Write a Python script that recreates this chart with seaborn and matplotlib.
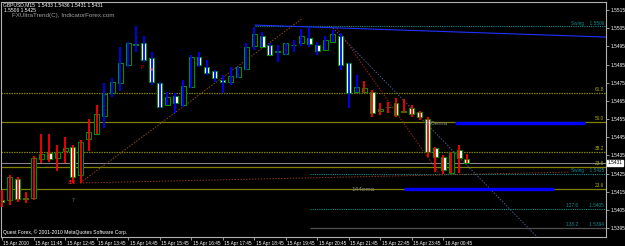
import numpy as np
import pandas as pd
import matplotlib
matplotlib.use("Agg")
import matplotlib.pyplot as plt
import matplotlib.transforms as mtransforms
import seaborn as sns

# ---------------- data ----------------
header_line1 = "GBPUSD,M15  1.5433 1.5436 1.5431 1.5431"
header_line2 = "1.5506 1.5425"
indicator_name = "FXUltraTrend(C), IndicatorForex.com"
copyright_text = "Quest Forex, \u00a9 2001-2010 MetaQuotes Software Corp."

opens = [1.54104, 1.54104, 1.54220, 1.54115, 1.54115, 1.54330, 1.54363, 1.54335, 1.54374, 1.54396,
         1.54242, 1.54440, 1.54468, 1.54567, 1.54693, 1.54748, 1.54847, 1.54957, 1.54968, 1.54886,
         1.54748, 1.54627, 1.54677, 1.54627, 1.54726, 1.54891, 1.54836, 1.54814, 1.54765, 1.54754,
         1.54781, 1.54825, 1.54952, 1.55007, 1.54957, 1.54919, 1.54908, 1.54957, 1.54968, 1.54996,
         1.54957, 1.54930, 1.54974, 1.55007, 1.54858, 1.54699, 1.54699, 1.54699, 1.54594, 1.54616,
         1.54638, 1.54589, 1.54611, 1.54589, 1.54550, 1.54391, 1.54341, 1.54253, 1.54380, 1.54330]
highs = [1.54159, 1.54242, 1.54231, 1.54148, 1.54346, 1.54468, 1.54468, 1.54407, 1.54451, 1.54407,
         1.54435, 1.54550, 1.54627, 1.54748, 1.54776, 1.54946, 1.54974, 1.55060, 1.55007, 1.54919,
         1.54754, 1.54699, 1.54693, 1.54765, 1.54902, 1.54919, 1.54875, 1.54820, 1.54792, 1.54836,
         1.54836, 1.54968, 1.55058, 1.55029, 1.54968, 1.54957, 1.54968, 1.54985, 1.55045, 1.55050,
         1.54974, 1.55007, 1.55040, 1.55023, 1.54858, 1.54792, 1.54759, 1.54710, 1.54638, 1.54644,
         1.54666, 1.54660, 1.54627, 1.54594, 1.54561, 1.54396, 1.54352, 1.54369, 1.54407, 1.54360]
lows = [1.54066, 1.54077, 1.54093, 1.54088, 1.54104, 1.54308, 1.54313, 1.54264, 1.54308, 1.54198,
        1.54198, 1.54374, 1.54468, 1.54501, 1.54671, 1.54704, 1.54836, 1.54919, 1.54864, 1.54737,
        1.54611, 1.54627, 1.54583, 1.54616, 1.54721, 1.54836, 1.54792, 1.54754, 1.54693, 1.54737,
        1.54776, 1.54820, 1.54930, 1.54946, 1.54902, 1.54864, 1.54902, 1.54919, 1.54952, 1.54946,
        1.54902, 1.54930, 1.54974, 1.54820, 1.54611, 1.54699, 1.54693, 1.54561, 1.54572, 1.54583,
        1.54561, 1.54583, 1.54561, 1.54545, 1.54341, 1.54258, 1.54250, 1.54253, 1.54253, 1.54310]
closes = [1.54093, 1.54231, 1.54110, 1.54110, 1.54335, 1.54358, 1.54330, 1.54369, 1.54391, 1.54231,
          1.54424, 1.54479, 1.54578, 1.54688, 1.54754, 1.54858, 1.54968, 1.54963, 1.54875, 1.54754,
          1.54616, 1.54671, 1.54638, 1.54732, 1.54891, 1.54847, 1.54803, 1.54776, 1.54754, 1.54787,
          1.54836, 1.54946, 1.55018, 1.54946, 1.54902, 1.54924, 1.54968, 1.54957, 1.55007, 1.54963,
          1.54924, 1.54985, 1.55018, 1.54847, 1.54693, 1.54726, 1.54721, 1.54583, 1.54605, 1.54616,
          1.54572, 1.54594, 1.54578, 1.54561, 1.54369, 1.54341, 1.54269, 1.54369, 1.54335, 1.54310]
trend = ["down"] * 13 + ["up"] * 33 + ["down"] * 14

time_labels = ["15 Apr 2010", "15 Apr 11:45", "15 Apr 12:45", "15 Apr 13:45", "15 Apr 14:45",
               "15 Apr 15:45", "15 Apr 16:45", "15 Apr 17:45", "15 Apr 18:45", "15 Apr 19:45",
               "15 Apr 20:45", "15 Apr 21:45", "15 Apr 22:45", "15 Apr 23:45", "16 Apr 00:45"]
bars_per_label = 4
price_ticks = [1.5395, 1.5405, 1.5415, 1.5425, 1.5435, 1.5445, 1.5455, 1.5465,
               1.5475, 1.5485, 1.5495, 1.5505, 1.5515]
current_price = 1.5431

# full-width fibonacci levels
fib_names = ["61.8", "50.0", "38.2", "23.6", "23.6"]
fib_prices = [1.54693, 1.54534, 1.54369, 1.54286, 1.54165]
fib_dotted = [True, False, True, False, False]

# partial levels
swing_high = 1.5506
swing_low = 1.5425
ext_names = ["127.6", "138.2"]
ext_prices = [1.54055, 1.53950]
ext_label_values = ["1.5405", "1.5394"]

# trend lines: (bar0, price0, bar1, price1)
tl_blue = (32.1, 1.55067, 76.7, 1.55001)
tl_brown_diag = (9.9, 1.54198, 38.2, 1.55106)
tl_brown_flat = (9.9, 1.54198, 72.1, 1.54258)
tl_slate_diag = (42.0, 1.55051, 67.9, 1.53901)
tl_red_diag = (42.5, 1.55050, 55.6, 1.54242)
ema200 = (57.5, 74.0, 1.54528)
ema144 = (51.0, 70.1, 1.54165)

# ---------------- style ----------------
sns.set_theme(style="dark")
plt.rcParams["font.family"] = ["Liberation Sans", "DejaVu Sans"]

df = pd.DataFrame({"o": opens, "h": highs, "l": lows, "c": closes, "trend": trend})
df["x"] = np.arange(len(df))

W, H = 625, 246
fig = plt.figure(figsize=(W / 100, H / 100), dpi=100, facecolor="black")
px_l, px_r, px_t, px_b = 1, 606, 2, 237
ax = fig.add_axes([px_l / W, 1 - px_b / H, (px_r - px_l) / W, (px_b - px_t) / H])
ax.set_facecolor("black")

bar_px = 7.88
x0_px = 2.0
ax.set_xlim((px_l - x0_px) / bar_px, (px_r - x0_px) / bar_px)
ppx = 0.000055036
ax.set_ylim(1.5515 - (px_b - 10) * ppx, 1.5515 + (10 - px_t) * ppx)
xmax = ax.get_xlim()[1]

# horizontal levels
olive = "#808000"
for name, pr, dot in zip(fib_names, fib_prices, fib_dotted):
    ax.axhline(pr, color=olive, lw=0.9, ls=(0, (1.2, 0.8)) if dot else "-", zorder=1)
ax.axhline(current_price, color="#8a8a8a", lw=0.7, zorder=1)

teal = "#108c8c"
ax.hlines(swing_high, 32.1, xmax, color=teal, lw=0.8, ls=(0, (1, 1)), zorder=1)
ax.hlines(swing_low, 39.1, xmax, color=teal, lw=0.8, ls=(0, (1, 1)), zorder=1)
ax.hlines(ext_prices[0], 39.1, xmax, color=teal, lw=0.8, ls=(0, (1, 1)), zorder=1)
ax.hlines(ext_prices[1], 39.1, xmax, color="#505050", lw=0.9, zorder=1)

# trend lines
def tline(t, **kw):
    ax.plot([t[0], t[2]], [t[1], t[3]], **kw)

tline(tl_blue, color="#2030ff", lw=0.8, zorder=2)
tline(tl_brown_diag, color="#8a4a20", lw=0.7, ls=(0, (1.5, 1.5)), zorder=2)
tline(tl_brown_flat, color="#8a3a20", lw=0.7, ls=(0, (1.5, 1.5)), zorder=2)
tline(tl_slate_diag, color="#4a5a8a", lw=0.7, ls=(0, (1.5, 1.5)), zorder=2)
tline(tl_red_diag, color="#a02020", lw=0.7, ls=(0, (1.5, 1.5)), zorder=2)

ax.hlines(ema200[2], ema200[0], ema200[1], color="#0000ff", lw=2.4, zorder=2)
ax.hlines(ema144[2], ema144[0], ema144[1], color="#0000ff", lw=2.4, zorder=2)

# candles
bull = df["c"] >= df["o"]
fill = np.where(bull, "black", "white")
ax.bar(df["x"], df["c"] - df["o"], bottom=df["o"], width=0.63, color=fill,
       edgecolor="#009000", linewidth=0.8, zorder=3)
wick_col = np.where(df["trend"] == "up", "#0000ff", "#ff0000")
ax.vlines(df["x"], df["l"], df["h"], colors=wick_col, lw=1.3, zorder=4)

# axes / ticks
for s in ax.spines.values():
    s.set_color("#b0b0b0")
    s.set_linewidth(0.8)
ax.yaxis.tick_right()
ax.set_yticks(price_ticks)
ax.set_yticklabels([f"{v:.4f}" for v in price_ticks])
ax.tick_params(axis="y", colors="#b0b0b0", labelcolor="white", length=2, width=0.6,
               labelsize=3.4, pad=1, direction="out", right=True, left=False)
ax.set_xticks(np.arange(len(time_labels)) * bars_per_label)
ax.set_xticklabels(time_labels, ha="left")
ax.tick_params(axis="x", colors="#b0b0b0", labelcolor="white", length=2, width=0.6,
               labelsize=3.4, pad=0.8, direction="out", bottom=True)
off = mtransforms.ScaledTranslation(1.5 / 100, 0, fig.dpi_scale_trans)
for lab in ax.get_xticklabels():
    lab.set_transform(lab.get_transform() + off)
ax.grid(False)

# price box
ybt = mtransforms.blended_transform_factory(ax.transAxes, ax.transData)
ax.text(1.003, current_price, f"{current_price:.4f}", transform=ybt, fontsize=3.4, color="black",
        va="center", ha="left", bbox=dict(facecolor="white", edgecolor="white", pad=0.4), zorder=6,
        clip_on=False)

# level labels
lab_x = 0.997
for name, pr in zip(fib_names, fib_prices):
    ax.text(lab_x, pr + 0.00003, name, transform=ybt, fontsize=3.4, color="#b0b000",
            ha="right", va="bottom", zorder=5)
ax.text(lab_x, swing_high + 0.00003, "Swing    " + f"{swing_high:.4f}", transform=ybt,
        fontsize=3.4, color=teal, ha="right", va="bottom", zorder=5)
ax.text(lab_x, swing_low + 0.00003, "Swing    " + f"{swing_low:.4f}", transform=ybt,
        fontsize=3.4, color=teal, ha="right", va="bottom", zorder=5)
for nm, pr, lv in zip(ext_names, ext_prices, ext_label_values):
    ax.text(lab_x, pr + 0.00003, nm + "        " + lv, transform=ybt, fontsize=3.4,
            color=teal, ha="right", va="bottom", zorder=5)

ax.text(53.6, ema200[2], "200ema", fontsize=4.6, color="#8a8a8a", ha="left", va="center", zorder=5)
ax.text(44.4, ema144[2] - 0.00004, "144ema", fontsize=4.6, color="#8a8a8a", ha="left", va="center",
        zorder=5)
ax.text(8.4, 1.54198, "352", fontsize=3.6, color="#ff2020", ha="left", va="center", zorder=5)
ax.text(8.9, 1.54104, "7", fontsize=3.6, color="#4a90a0", ha="left", va="center", zorder=5)
ax.text(17.8, 1.54836, "P", fontsize=3.6, color="#d00000", ha="center", va="center", zorder=5)
ax.text(19.0, 1.54820, "88", fontsize=3.0, color="#ff8080", ha="center", va="center", zorder=5)

# header / footer texts (figure pixel positions)
fig.text(3 / W, 1 - 5 / H, header_line1, fontsize=3.6, color="white", ha="left", va="center")
fig.text(4 / W, 1 - 10.5 / H, header_line2, fontsize=3.6, color="white", ha="left", va="center")
fig.text(12 / W, 1 - 16 / H, indicator_name, fontsize=4.5, color="#a0a0a0", ha="left", va="center")
fig.text(3 / W, 1 - 232 / H, copyright_text, fontsize=3.6, color="white", ha="left", va="center")

fig.savefig("out.png", dpi=100, facecolor="black")
